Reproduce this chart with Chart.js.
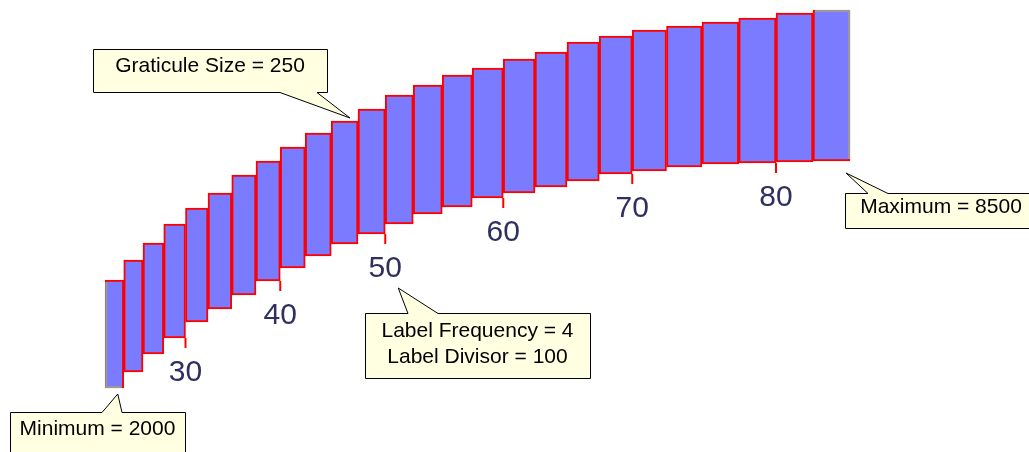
<!DOCTYPE html>
<html>
<head>
<meta charset="utf-8">
<script src="https://cdn.jsdelivr.net/npm/chart.js@4.4.0/dist/chart.umd.min.js"></script>
<style>
  html, body { margin: 0; padding: 0; background: #fff; overflow: hidden; }
  canvas { display: block; }
</style>
</head>
<body>
<canvas id="scaleChart" width="1029" height="452"></canvas>
<script>
var minimum = 2000
var maximum = 8500
var graticule = 250
var labelFrequency = 4
var labelDivisor = 100

// lower value of each graticule segment
var steps = [2000, 2250, 2500, 2750, 3000, 3250, 3500, 3750, 4000, 4250, 4500, 4750, 5000,
             5250, 5500, 5750, 6000, 6250, 6500, 6750, 7000, 7250, 7500, 7750, 8000, 8250]
// where each segment sits on the curved scale
var arcX = [114.5, 133, 153, 174.5, 196.5, 219.5, 244, 268, 292.5, 318, 344.5, 371.5, 399,
            427.5, 457, 487.5, 519, 551, 583, 615.5, 649, 684, 720, 757.5, 794.5, 831.5]
var arcLow = [64, 80, 98, 114, 130, 143, 157, 171, 184, 196, 208, 218, 228,
              238, 245, 254, 259, 265, 271, 278, 281, 285, 288, 289, 290, 291]
var arcHigh = [172, 192, 209, 228, 244, 259, 277, 291, 305, 319, 331, 343, 357,
               367, 377, 384, 393, 400, 410, 416, 422, 426, 430, 434, 439, 442]
var tickLabels = ['30', '40', '50', '60', '70', '80']

var blue = '#7b7bff'
var red = '#ff0000'
var grey = '#999999'
var tipFill = '#ffffe1'
var labelColor = '#2f2f60'

// callout boxes: [left, top, right, bottom], tail base on one side, tip tied to a segment
var callouts = [
    { lines: ['Graticule Size = 250'], box: [93, 49, 327, 92], baseline: 23, side: 'bottom', tail: [280, 317], bar: 10, at: 'top', dx: -8, dy: -3 },
    { lines: ['Maximum = ' + maximum], box: [845, 193, 1037, 228], baseline: 20, side: 'top', tail: [868, 888], bar: 25, at: 'bottom', dx: -4, dy: 12 },
    { lines: ['Label Frequency = ' + labelFrequency, 'Label Divisor = ' + labelDivisor], box: [365, 313, 590, 378], baseline: 24, side: 'top', tail: [408, 438], bar: 11, at: 'bottom', dx: 13, dy: 54 },
    { lines: ['Minimum = ' + minimum], box: [10, 412, 185, 460], baseline: 23, side: 'top', tail: [102, 122], bar: 0, at: 'bottom', dx: -6, dy: 6 }
]

function edges(bar) {
    var p = bar.getProps(['x', 'y', 'base', 'width'], true)
    return {
        left: p.x - p.width / 2,
        right: p.x + p.width / 2,
        top: Math.min(p.y, p.base),
        bottom: Math.max(p.y, p.base)
    }
}

function drawCallout(ctx, c, tip) {
    var l = c.box[0] + 0.5, t = c.box[1] + 0.5, r = c.box[2] + 0.5, b = c.box[3] + 0.5
    ctx.beginPath()
    if (c.side === 'top') {
        ctx.moveTo(l, t)
        ctx.lineTo(c.tail[0], t)
        ctx.lineTo(tip.x, tip.y)
        ctx.lineTo(c.tail[1], t)
        ctx.lineTo(r, t)
        ctx.lineTo(r, b)
        ctx.lineTo(l, b)
    } else {
        ctx.moveTo(l, t)
        ctx.lineTo(r, t)
        ctx.lineTo(r, b)
        ctx.lineTo(c.tail[1], b)
        ctx.lineTo(tip.x, tip.y)
        ctx.lineTo(c.tail[0], b)
        ctx.lineTo(l, b)
    }
    ctx.closePath()
    ctx.fillStyle = tipFill
    ctx.fill()
    ctx.strokeStyle = '#000'
    ctx.lineWidth = 1
    ctx.stroke()

    ctx.fillStyle = '#000'
    ctx.font = '21px "Liberation Sans", Arial, sans-serif'
    ctx.textAlign = 'center'
    ctx.textBaseline = 'alphabetic'
    var cx = (c.box[0] + c.box[2]) / 2
    c.lines.forEach(function (line, i) {
        ctx.fillText(line, cx, c.box[1] + c.baseline + i * 26)
    })
}

var scaleDecor = {
    id: 'scaleDecor',
    afterDatasetsDraw: function (chart) {
        var ctx = chart.ctx
        var bars = chart.getDatasetMeta(0).data
        ctx.save()

        // grey outline at the two ends of the scale
        var first = edges(bars[0])
        var last = edges(bars[bars.length - 1])
        ctx.strokeStyle = grey
        ctx.lineWidth = 2
        ctx.beginPath()
        ctx.moveTo(first.left + 1, first.top + 2)
        ctx.lineTo(first.left + 1, first.bottom - 1)
        ctx.lineTo(first.right - 2, first.bottom - 1)
        ctx.moveTo(last.left + 2, last.top + 1)
        ctx.lineTo(last.right - 1, last.top + 1)
        ctx.lineTo(last.right - 1, last.bottom - 2)
        ctx.stroke()

        // ticks and labels every labelFrequency graticules
        ctx.font = '30px "Liberation Sans", Arial, sans-serif'
        ctx.textAlign = 'center'
        ctx.textBaseline = 'middle'
        tickLabels.forEach(function (lab) {
            var idx = steps.indexOf(Number(lab) * labelDivisor - graticule)
            if (idx < 0) return
            var e = edges(bars[idx])
            ctx.strokeStyle = red
            ctx.lineWidth = 2
            ctx.beginPath()
            ctx.moveTo(e.right, e.bottom)
            ctx.lineTo(e.right, e.bottom + 10)
            ctx.stroke()
            ctx.fillStyle = labelColor
            ctx.fillText(lab, e.right, e.bottom + 35)
        })

        callouts.forEach(function (c) {
            var e = edges(bars[c.bar])
            var tip = { x: e.right + c.dx, y: (c.at === 'top' ? e.top : e.bottom) + c.dy }
            drawCallout(ctx, c, tip)
        })
        ctx.restore()
    }
}

var scaleData = steps.map(function (s, i) {
    return { x: arcX[i], y: [arcLow[i], arcHigh[i]] }
})

var scaleChartElem = document.getElementById('scaleChart').getContext('2d')

var scaleChart = new Chart(scaleChartElem, {
    type: 'bar',
    data: {
        datasets: [{
            label: 'Graticules',
            data: scaleData,
            backgroundColor: blue,
            borderColor: red,
            borderWidth: 2,
            borderSkipped: false,
            barThickness: 'flex',
            categoryPercentage: 1,
            barPercentage: 1
        }]
    },
    options: {
        responsive: false,
        animation: false,
        layout: { padding: 0 },
        plugins: {
            legend: { display: false },
            tooltip: { enabled: false }
        },
        scales: {
            x: { type: 'linear', min: 0, max: 1029, offset: false, display: false },
            y: { type: 'linear', min: 0, max: 452, display: false }
        }
    },
    plugins: [scaleDecor]
})
</script>
</body>
</html>
